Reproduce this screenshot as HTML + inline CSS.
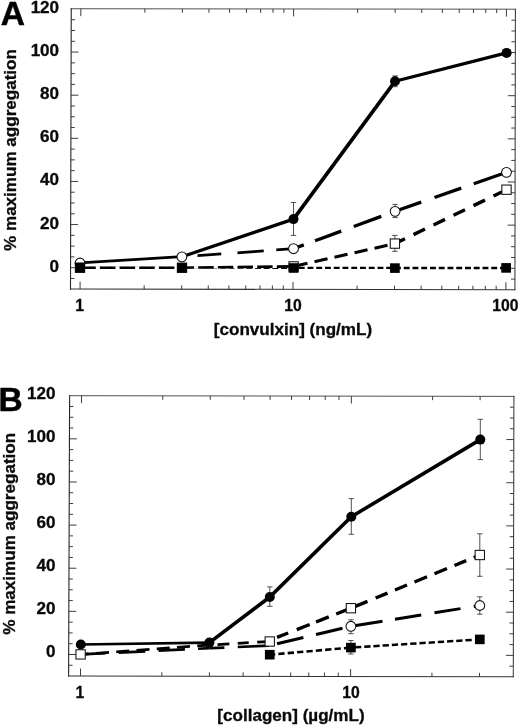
<!DOCTYPE html>
<html><head><meta charset="utf-8"><title>Figure</title>
<style>
html,body{margin:0;padding:0;background:#fff;}
body{width:520px;height:727px;overflow:hidden;font-family:"Liberation Sans",sans-serif;}
svg{display:block;}
.t{font-family:"Liberation Sans",sans-serif;font-weight:bold;font-size:16px;fill:#0a0a0a;stroke:#0a0a0a;stroke-width:0.3px;}
.L{font-family:"Liberation Sans",sans-serif;font-weight:bold;font-size:33.5px;fill:#000;stroke:#000;stroke-width:0.5px;}
</style></head><body>
<svg width="520" height="727" viewBox="0 0 520 727">
<rect width="520" height="727" fill="#fff"/>
<g opacity="0.999">
<line x1="71.25" y1="8.75" x2="515.4" y2="9.2" stroke="#505050" stroke-width="1.0" stroke-linecap="square"/>
<line x1="515.4" y1="9.2" x2="514.9" y2="289.7" stroke="#3a3a3a" stroke-width="1.05" stroke-linecap="square"/>
<line x1="70.5" y1="289.1" x2="514.9" y2="289.7" stroke="#333" stroke-width="1.05" stroke-linecap="square"/>
<line x1="71.25" y1="8.75" x2="70.5" y2="289.1" stroke="#262626" stroke-width="1.1" stroke-linecap="square"/>
<path d="M70.53 278.48h3.9M514.92 279.08h-3.9M70.56 267.7h7.4M514.94 268.29h-7.4M70.59 256.92h3.9M514.96 257.5h-3.9M70.61 246.14h3.9M514.98 246.71h-3.9M70.64 235.36h3.9M515 235.93h-3.9M70.67 224.57h7.4M515.02 225.14h-7.4M70.7 213.79h3.9M515.03 214.35h-3.9M70.73 203.01h3.9M515.05 203.57h-3.9M70.76 192.23h3.9M515.07 192.78h-3.9M70.79 181.45h7.4M515.09 181.99h-7.4M70.82 170.67h3.9M515.11 171.2h-3.9M70.85 159.89h3.9M515.13 160.42h-3.9M70.87 149.1h3.9M515.15 149.63h-3.9M70.9 138.32h7.4M515.17 138.84h-7.4M70.93 127.54h3.9M515.19 128.05h-3.9M70.96 116.76h3.9M515.21 117.27h-3.9M70.99 105.98h3.9M515.23 106.48h-3.9M71.02 95.2h7.4M515.25 95.69h-7.4M71.05 84.41h3.9M515.27 84.9h-3.9M71.08 73.63h3.9M515.28 74.12h-3.9M71.11 62.85h3.9M515.3 63.33h-3.9M71.13 52.07h7.4M515.32 52.54h-7.4M71.16 41.29h3.9M515.34 41.76h-3.9M71.19 30.51h3.9M515.36 30.97h-3.9M71.22 19.73h3.9M515.38 20.18h-3.9M80.08 289.11v-7.4M80.82 8.76v7.4M144.17 289.2v-3.9M144.88 8.82v3.9M181.66 289.25v-3.9M182.35 8.86v3.9M208.26 289.29v-3.9M208.94 8.89v3.9M228.9 289.31v-3.9M229.56 8.91v3.9M245.75 289.34v-3.9M246.41 8.93v3.9M260.01 289.36v-3.9M260.65 8.94v3.9M272.36 289.37v-3.9M272.99 8.95v3.9M283.25 289.39v-3.9M283.88 8.97v3.9M292.99 289.4v-7.4M293.61 8.98v7.4M357.08 289.49v-3.9M357.67 9.04v3.9M394.57 289.54v-3.9M395.14 9.08v3.9M421.17 289.57v-3.9M421.73 9.11v3.9M441.81 289.6v-3.9M442.35 9.13v3.9M458.67 289.62v-3.9M459.2 9.14v3.9M472.92 289.64v-3.9M473.44 9.16v3.9M485.27 289.66v-3.9M485.78 9.17v3.9M496.16 289.67v-3.9M496.67 9.18v3.9M505.9 289.69v-7.4M506.41 9.19v7.4" stroke="#333" stroke-width="0.95" fill="none"/>
<text transform="translate(59.1 271.55) scale(1.067 1)" text-anchor="end" class="t">0</text>
<text transform="translate(59.1 228.5) scale(1.067 1)" text-anchor="end" class="t">20</text>
<text transform="translate(59.1 185.45) scale(1.067 1)" text-anchor="end" class="t">40</text>
<text transform="translate(59.1 142.4) scale(1.067 1)" text-anchor="end" class="t">60</text>
<text transform="translate(59.1 99.35) scale(1.067 1)" text-anchor="end" class="t">80</text>
<text transform="translate(59.1 56.3) scale(1.067 1)" text-anchor="end" class="t">100</text>
<text transform="translate(59.1 13.25) scale(1.067 1)" text-anchor="end" class="t">120</text>
<text transform="translate(79.7 311.3) scale(0.985 0.975)" text-anchor="middle" class="t">1</text>
<text transform="translate(293 311.3) scale(0.985 0.975)" text-anchor="middle" class="t">10</text>
<text transform="translate(505.4 311.3) scale(0.985 0.975)" text-anchor="middle" class="t">100</text>
<text transform="translate(292.95 334.8) scale(1.067 1)" text-anchor="middle" class="t">[convulxin] (ng/mL)</text>
<text transform="translate(15.5 150) rotate(-90) scale(1.067 1)" text-anchor="middle" class="t">% maximum aggregation</text>
<text transform="translate(0.8 24.75) scale(1 1)" text-anchor="start" class="L">A</text>
<line x1="80" y1="267.7" x2="506.25" y2="268" stroke="#000" stroke-width="2.4" stroke-linecap="butt" stroke-dasharray="0 0 5.9 2.85 5.9 2.85 5.9 2.85 5.9 2.85 5.9 2.85 5.9 2.85 5.9 2.85 5.9 2.85 5.9 2.85 5.9 2.85 5.9 2.85 5.9 2.85 5.9 2.85 5.9 2.85 5.9 2.85 5.9 2.85 5.9 2.85 5.9 2.85 5.9 2.85 5.9 2.85 5.9 2.85 5.9 2.85 5.9 2.85 5.9 2.85 5.9 2.85 5.9 2.85 5.9 2.85 5.9 2.85 5.9 2.85 5.9 2.85 5.9 2.85 5.9 2.85 5.9 2.85 5.9 2.85 5.9 2.85 5.9 2.85 5.9 2.85 5.9 2.85 5.9 2.85 5.9 2.85 5.9 2.85 5.9 2.85 5.9 2.85 5.9 2.85 5.9 2.85 5.9 2.85 5.9 2.85 5.9 2.85 5.9 436.25"/>
<line x1="80" y1="267.7" x2="182" y2="267.7" stroke="#fff" stroke-width="3.0" stroke-linecap="butt"/>
<line x1="182" y1="267.7" x2="293.6" y2="266.4" stroke="#fff" stroke-width="2.83" stroke-linecap="butt"/>
<line x1="80" y1="267.7" x2="182" y2="267.7" stroke="#000" stroke-width="2.6" stroke-linecap="butt" stroke-dasharray="0 0.3 15.5 4.15 15.5 4.15 15.5 4.15 15.5 4.15 15.5 4.15 3.45 112"/>
<line x1="182" y1="267.7" x2="293.6" y2="266.4" stroke="#000" stroke-width="2.63" stroke-linecap="butt" stroke-dasharray="0 0 12.05 4.15 15.5 4.15 15.5 4.15 15.5 4.15 15.5 4.15 15.5 121.61"/>
<line x1="293.6" y1="266.4" x2="394.9" y2="243.6" stroke="#000" stroke-width="3.11" stroke-linecap="butt" stroke-dasharray="0 0.92 13.33 7.18 13.33 7.18 13.33 7.18 13.33 7.18 13.33 7.18 0.41 113.83"/>
<line x1="394.9" y1="243.6" x2="506.5" y2="189.7" stroke="#000" stroke-width="3.47" stroke-linecap="butt" stroke-dasharray="0 0.11 11.11 9.44 12.77 9.44 12.77 9.44 12.77 9.44 12.77 9.44 13.88 133.93"/>
<line x1="181.9" y1="256.8" x2="293.5" y2="248.7" stroke="#000" stroke-width="2.78" stroke-linecap="butt" stroke-dasharray="0 15.64 23.81 16.29 26.32 12.58 17.25 121.89"/>
<line x1="293.5" y1="248.7" x2="395.1" y2="211.3" stroke="#000" stroke-width="3.34" stroke-linecap="butt" stroke-dasharray="0 0 10.98 11.93 27.97 13.32 29.3 118.27"/>
<line x1="395.1" y1="211.3" x2="506.5" y2="172.3" stroke="#000" stroke-width="3.31" stroke-linecap="butt" stroke-dasharray="0 0 27.71 14.04 28.34 13.24 34.17 128.03"/>
<line x1="80" y1="262.8" x2="181.9" y2="256.7" stroke="#000" stroke-width="2.75" stroke-linecap="butt"/>
<line x1="181.9" y1="256.7" x2="293.5" y2="219.1" stroke="#000" stroke-width="3.29" stroke-linecap="butt"/>
<line x1="293.5" y1="219.1" x2="395" y2="81.3" stroke="#000" stroke-width="3.64" stroke-linecap="butt"/>
<line x1="395" y1="81.3" x2="506.6" y2="52.9" stroke="#000" stroke-width="3.16" stroke-linecap="butt"/>
<path d="M395.1 75.9V86.7M392.4 75.9h5.4M392.4 86.7h5.4M293.5 202.5V235.4M290.8 202.5h5.4M290.8 235.4h5.4M395.1 204.4V217.6M392.4 204.4h5.4M392.4 217.6h5.4M394.9 235.4V251.3M392.2 235.4h5.4M392.2 251.3h5.4" stroke="#333" stroke-width="0.85" fill="none"/>
<circle cx="293.5" cy="219.1" r="5.0" fill="#000"/>
<circle cx="395" cy="81.3" r="5.0" fill="#000"/>
<circle cx="506.6" cy="52.9" r="5.0" fill="#000"/>
<circle cx="80" cy="263" r="4.9" fill="#fff" stroke="#111" stroke-width="1.05"/>
<circle cx="181.9" cy="256.8" r="4.9" fill="#fff" stroke="#111" stroke-width="1.05"/>
<circle cx="293.5" cy="248.7" r="4.9" fill="#fff" stroke="#111" stroke-width="1.05"/>
<circle cx="395.1" cy="211.3" r="4.9" fill="#fff" stroke="#111" stroke-width="1.05"/>
<circle cx="506.5" cy="172.3" r="4.9" fill="#fff" stroke="#111" stroke-width="1.05"/>
<rect x="75.35" y="263.05" width="9.3" height="9.3" fill="#fff" stroke="#111" stroke-width="1.05"/>
<rect x="177.35" y="263.05" width="9.3" height="9.3" fill="#fff" stroke="#111" stroke-width="1.05"/>
<rect x="288.95" y="261.75" width="9.3" height="9.3" fill="#fff" stroke="#111" stroke-width="1.05"/>
<rect x="390.25" y="238.95" width="9.3" height="9.3" fill="#fff" stroke="#111" stroke-width="1.05"/>
<rect x="501.85" y="185.05" width="9.3" height="9.3" fill="#fff" stroke="#111" stroke-width="1.05"/>
<rect x="75.25" y="262.9" width="9.7" height="9.6" fill="#000"/>
<rect x="177.15" y="263" width="9.7" height="9.6" fill="#000"/>
<rect x="288.75" y="263.2" width="9.7" height="9.6" fill="#000"/>
<rect x="390.05" y="263.3" width="9.7" height="9.6" fill="#000"/>
<rect x="501.25" y="263.1" width="9.7" height="9.6" fill="#000"/>
<line x1="69.6" y1="395.7" x2="513.9" y2="396.4" stroke="#505050" stroke-width="1.0" stroke-linecap="square"/>
<line x1="513.9" y1="396.4" x2="513.3" y2="676.8" stroke="#3a3a3a" stroke-width="1.05" stroke-linecap="square"/>
<line x1="68.6" y1="675.9" x2="513.3" y2="676.8" stroke="#333" stroke-width="1.05" stroke-linecap="square"/>
<line x1="69.6" y1="395.7" x2="68.6" y2="675.9" stroke="#262626" stroke-width="1.1" stroke-linecap="square"/>
<path d="M68.64 665.28h3.9M513.32 666.18h-3.9M68.68 654.5h7.4M513.35 655.39h-7.4M68.71 643.72h3.9M513.37 644.59h-3.9M68.75 632.93h3.9M513.39 633.8h-3.9M68.79 622.15h3.9M513.42 623.01h-3.9M68.83 611.37h7.4M513.44 612.22h-7.4M68.87 600.58h3.9M513.46 601.43h-3.9M68.91 589.8h3.9M513.48 590.64h-3.9M68.95 579.02h3.9M513.51 579.85h-3.9M68.98 568.23h7.4M513.53 569.06h-7.4M69.02 557.45h3.9M513.55 558.27h-3.9M69.06 546.67h3.9M513.58 547.47h-3.9M69.1 535.88h3.9M513.6 536.68h-3.9M69.14 525.1h7.4M513.62 525.89h-7.4M69.18 514.32h3.9M513.65 515.1h-3.9M69.22 503.53h3.9M513.67 504.31h-3.9M69.25 492.75h3.9M513.69 493.52h-3.9M69.29 481.97h7.4M513.72 482.73h-7.4M69.33 471.18h3.9M513.74 471.94h-3.9M69.37 460.4h3.9M513.76 461.14h-3.9M69.41 449.61h3.9M513.78 450.35h-3.9M69.45 438.83h7.4M513.81 439.56h-7.4M69.48 428.05h3.9M513.83 428.77h-3.9M69.52 417.26h3.9M513.85 417.98h-3.9M69.56 406.48h3.9M513.88 407.19h-3.9M80.5 675.92v-7.4M81.49 395.72v7.4M161.82 676.09v-3.9M162.73 395.85v3.9M209.38 676.18v-3.9M210.25 395.92v3.9M243.13 676.25v-3.9M243.97 395.97v3.9M269.3 676.31v-3.9M270.12 396.02v3.9M290.69 676.35v-3.9M291.49 396.05v3.9M308.77 676.39v-3.9M309.56 396.08v3.9M324.44 676.42v-3.9M325.21 396.1v3.9M338.26 676.45v-3.9M339.01 396.12v3.9M350.62 676.47v-7.4M351.36 396.14v7.4M431.93 676.64v-3.9M432.6 396.27v3.9M479.49 676.73v-3.9M480.12 396.35v3.9" stroke="#333" stroke-width="0.95" fill="none"/>
<text transform="translate(55.4 656.5) scale(1.067 1)" text-anchor="end" class="t">0</text>
<text transform="translate(55.4 613.5) scale(1.067 1)" text-anchor="end" class="t">20</text>
<text transform="translate(55.4 570.5) scale(1.067 1)" text-anchor="end" class="t">40</text>
<text transform="translate(55.4 527.5) scale(1.067 1)" text-anchor="end" class="t">60</text>
<text transform="translate(55.4 484.5) scale(1.067 1)" text-anchor="end" class="t">80</text>
<text transform="translate(55.4 441.5) scale(1.067 1)" text-anchor="end" class="t">100</text>
<text transform="translate(55.4 398.5) scale(1.067 1)" text-anchor="end" class="t">120</text>
<text transform="translate(79.9 698.3) scale(0.985 0.975)" text-anchor="middle" class="t">1</text>
<text transform="translate(350.9 698.3) scale(0.985 0.975)" text-anchor="middle" class="t">10</text>
<text transform="translate(290.95 720.8) scale(1.067 1)" text-anchor="middle" class="t">[collagen] (µg/mL)</text>
<text transform="translate(14.7 533.8) rotate(-90) scale(1.067 1)" text-anchor="middle" class="t">% maximum aggregation</text>
<text transform="translate(-1.4 410.6) scale(1 1)" text-anchor="start" class="L">B</text>
<line x1="269.75" y1="654.7" x2="350.9" y2="647.6" stroke="#000" stroke-width="2.6" stroke-linecap="butt" stroke-dasharray="0 0.25 5.24 3.09 6.32 3.09 6.32 3.09 6.32 3.09 6.32 3.09 6.32 3.09 6.32 3.09 6.32 3.09 6.32 91.46"/>
<line x1="350.9" y1="647.6" x2="479.8" y2="639.4" stroke="#000" stroke-width="2.55" stroke-linecap="butt" stroke-dasharray="0 0.35 0.85 2.91 6.31 2.91 6.31 2.91 6.31 2.91 6.31 2.91 6.31 2.91 6.31 2.91 6.31 2.91 6.31 2.91 6.31 2.91 6.31 2.91 6.31 2.91 6.31 2.91 6.31 139.16"/>
<line x1="80.6" y1="654.4" x2="209.7" y2="648.2" stroke="#000" stroke-width="2.72" stroke-linecap="butt" stroke-dasharray="0 0 25.13 13.22 26.43 13.22 26.43 13.22 11.61 139.25"/>
<line x1="209.7" y1="648.2" x2="269.75" y2="645.6" stroke="#000" stroke-width="2.71" stroke-linecap="butt" stroke-dasharray="0 0 14.71 13.36 31.28 70.11"/>
<line x1="269.75" y1="645.5" x2="351.3" y2="626.2" stroke="#000" stroke-width="3.13" stroke-linecap="butt" stroke-dasharray="0 7.45 27.13 12.95 27.23 93.8"/>
<line x1="350.9" y1="626.3" x2="479.8" y2="605.5" stroke="#000" stroke-width="2.98" stroke-linecap="butt" stroke-dasharray="0 0.41 31.6 12.66 26.59 13.42 26.34 13.42 6.13 140.57"/>
<line x1="80.6" y1="654.4" x2="209.7" y2="645" stroke="#000" stroke-width="2.78" stroke-linecap="butt" stroke-dasharray="0 0 8.17 7.27 13.03 7.27 13.03 7.27 13.03 7.27 13.03 7.27 13.03 7.27 12.48 139.44"/>
<line x1="209.7" y1="645" x2="269.75" y2="641.5" stroke="#000" stroke-width="2.75" stroke-linecap="butt" stroke-dasharray="0 7.81 11.92 8.36 11.02 8.46 11.82 70.15"/>
<line x1="269.75" y1="640.3" x2="351.3" y2="608" stroke="#000" stroke-width="3.37" stroke-linecap="butt" stroke-dasharray="0 7.8 12.05 9.2 13.93 6.78 13.71 8.01 15.92 97.71"/>
<line x1="350.9" y1="608.2" x2="479.8" y2="555" stroke="#000" stroke-width="3.4" stroke-linecap="butt" stroke-dasharray="0 0.11 17.85 8.76 12.87 8.11 12.98 8.11 13.52 8.11 13.52 8.11 12.71 8.11 6.55 149.45"/>
<line x1="80.8" y1="644.5" x2="209.4" y2="642.6" stroke="#000" stroke-width="2.64" stroke-linecap="butt"/>
<line x1="209.4" y1="642.6" x2="269.8" y2="597" stroke="#000" stroke-width="3.64" stroke-linecap="butt"/>
<line x1="269.8" y1="597" x2="351.3" y2="516.7" stroke="#000" stroke-width="3.68" stroke-linecap="butt"/>
<line x1="351.3" y1="516.7" x2="480.3" y2="439.6" stroke="#000" stroke-width="3.57" stroke-linecap="butt"/>
<path d="M269.8 586.9V606.3M267.1 586.9h5.4M267.1 606.3h5.4M351.3 498.6V534.3M348.6 498.6h5.4M348.6 534.3h5.4M480.3 419.3V459.6M477.6 419.3h5.4M477.6 459.6h5.4M479.8 533.8V576.3M477.1 533.8h5.4M477.1 576.3h5.4M479.8 596.8V614.2M477.1 596.8h5.4M477.1 614.2h5.4M350.9 619.8V633.7M348.2 619.8h5.4M348.2 633.7h5.4M350.9 640.5V654M348.2 640.5h5.4M348.2 654h5.4" stroke="#333" stroke-width="0.85" fill="none"/>
<rect x="264.9" y="649.9" width="9.7" height="9.6" fill="#000"/>
<rect x="346.05" y="642.8" width="9.7" height="9.6" fill="#000"/>
<rect x="474.95" y="634.6" width="9.7" height="9.6" fill="#000"/>
<circle cx="350.9" cy="626.3" r="4.9" fill="#fff" stroke="#111" stroke-width="1.05"/>
<circle cx="479.8" cy="605.5" r="4.9" fill="#fff" stroke="#111" stroke-width="1.05"/>
<rect x="75.95" y="649.75" width="9.3" height="9.3" fill="#fff" stroke="#111" stroke-width="1.05"/>
<rect x="265.1" y="636.85" width="9.3" height="9.3" fill="#fff" stroke="#111" stroke-width="1.05"/>
<rect x="346.25" y="603.55" width="9.3" height="9.3" fill="#fff" stroke="#111" stroke-width="1.05"/>
<rect x="475.15" y="550.35" width="9.3" height="9.3" fill="#fff" stroke="#111" stroke-width="1.05"/>
<circle cx="80.8" cy="644.5" r="5.0" fill="#000"/>
<circle cx="209.4" cy="642.6" r="5.0" fill="#000"/>
<circle cx="269.8" cy="597" r="5.0" fill="#000"/>
<circle cx="351.3" cy="516.7" r="5.0" fill="#000"/>
<circle cx="480.3" cy="439.6" r="5.0" fill="#000"/>
</g>
</svg>
</body></html>
